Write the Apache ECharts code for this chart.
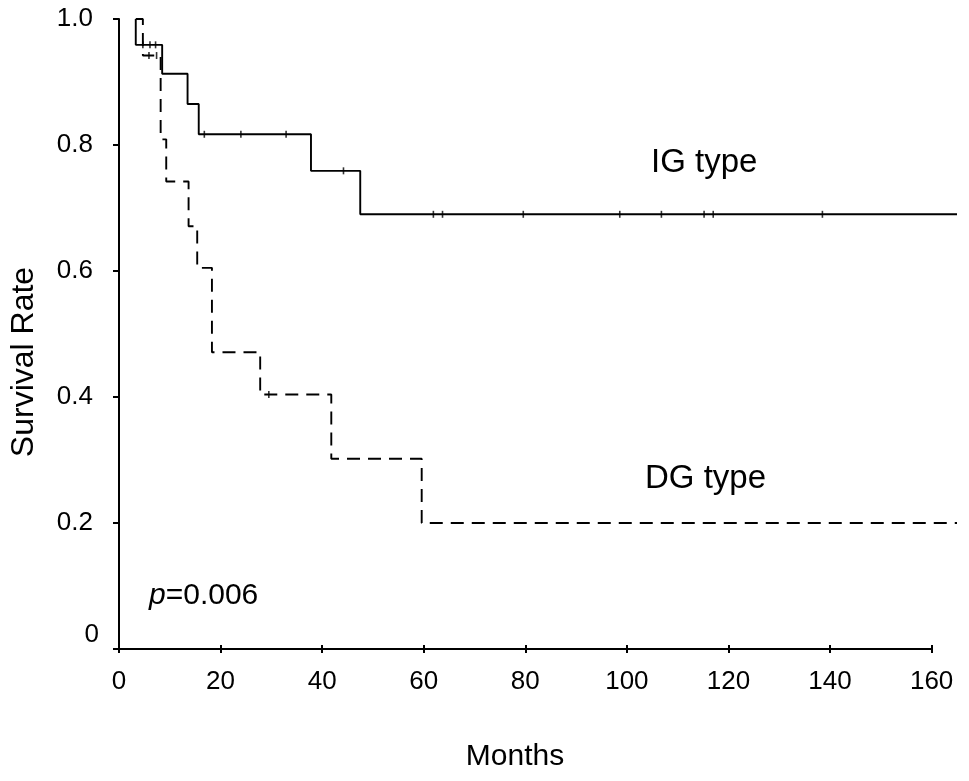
<!DOCTYPE html>
<html>
<head>
<meta charset="utf-8">
<script src="https://cdn.jsdelivr.net/npm/echarts@6/dist/echarts.min.js"></script>
<style>html,body{margin:0;padding:0;background:#fff;}#c{width:969px;height:781px;}</style>
</head>
<body>
<div id="c"></div>
<script>
// IG type (solid): event times and survival after each
const igTimes = [3.3, 3.3, 8.5, 13.5, 15.7, 37.8, 47.5, 165];
const igSurv  = [1.0, 0.959, 0.913, 0.865, 0.817, 0.759, 0.690, 0.690];
const igCensor = [4.7, 6.1, 7.2, 16.8, 24.0, 32.9, 44.2, 61.9, 63.7, 79.6, 98.6, 106.8, 115.2, 117.0, 138.5];

// DG type (dashed)
const dgTimes = [3.3, 4.7, 8.2, 9.3, 13.7, 15.4, 18.3, 27.8, 41.8, 59.6, 165];
const dgSurv  = [1.0, 0.942, 0.809, 0.742, 0.671, 0.605, 0.471, 0.404, 0.302, 0.200, 0.200];
const dgCensor = [5.9, 7.4, 29.5];

const xTicks = [0, 20, 40, 60, 80, 100, 120, 140, 160];
const yTicks = [0, 0.2, 0.4, 0.6, 0.8, 1.0];
const xEnd = 165;

function pairs(t, s) { return t.map((v, i) => [v, s[i]]); }
function survAt(t, s, x) {
  let v = s[0];
  for (let i = 0; i < t.length; i++) { if (t[i] <= x) v = s[i]; }
  return v;
}
const FONT = "'Liberation Sans', Arial, sans-serif";
const chart = echarts.init(document.getElementById('c'));
const xBase = {
  type: 'value', min: 0, max: xEnd,
  splitLine: { show: false }
};
chart.setOption({
  animation: false,
  backgroundColor: '#fff',
  grid: { left: 119, right: 12, top: 19, bottom: 132 },
  xAxis: [
    Object.assign({}, xBase, {
      position: 'bottom',
      axisLine: { show: false },
      axisTick: { inside: false, length: 4, customValues: xTicks, lineStyle: { color: '#000', width: 2 } },
      axisLabel: { color: '#000', fontSize: 26, fontFamily: FONT, margin: 20, customValues: xTicks }
    }),
    Object.assign({}, xBase, {
      position: 'bottom',
      axisLine: { show: false },
      axisTick: { inside: true, length: 4, customValues: xTicks, lineStyle: { color: '#000', width: 2 } },
      axisLabel: { show: false }
    })
  ],
  yAxis: {
    type: 'value', min: yTicks[0], max: yTicks[yTicks.length - 1], interval: 0.2,
    splitLine: { show: false },
    axisLine: { show: true, lineStyle: { color: '#000', width: 2 } },
    axisTick: { show: true, inside: false, length: 6, lineStyle: { color: '#000', width: 2 } },
    axisLabel: {
      color: '#000', fontSize: 26, fontFamily: FONT, margin: 20,
      formatter: v => v === 0 ? '{z|0}' : '{a|' + v.toFixed(1) + '}',
      rich: {
        a: { fontSize: 26, fontFamily: FONT, color: '#000', padding: [0, 6, 0, 0] },
        z: { fontSize: 26, fontFamily: FONT, color: '#000', padding: [0, 0, 28, 0] }
      }
    }
  },
  series: [
    {
      type: 'line', step: 'end', symbol: 'none',
      data: pairs(igTimes, igSurv),
      lineStyle: { color: '#000', width: 1.9, type: 'solid' },
      markLine: {
        silent: true, symbol: 'none', label: { show: false },
        lineStyle: { color: '#000', width: 2, type: 'solid' },
        data: [[{ coord: [xTicks[0], 0] }, { coord: [xTicks[xTicks.length - 1], 0] }]]
      }
    },
    {
      type: 'line', step: 'end', symbol: 'none',
      data: pairs(dgTimes, dgSurv),
      lineStyle: { color: '#000', width: 1.9, type: [13, 8] }
    },
    {
      type: 'scatter', symbol: 'rect', symbolSize: [1.6, 7],
      itemStyle: { color: '#000' },
      data: igCensor.map(x => [x, survAt(igTimes, igSurv, x)])
    },
    {
      type: 'scatter', symbol: 'rect', symbolSize: [1.6, 7],
      itemStyle: { color: '#000' },
      data: dgCensor.map(x => [x, survAt(dgTimes, dgSurv, x)])
    }
  ],
  graphic: [
    { type: 'text', x: 515, y: 757, style: { text: 'Months', font: "30px 'Liberation Sans', Arial", fill: '#000', align: 'center', verticalAlign: 'middle' } },
    { type: 'text', x: 24, y: 362, rotation: Math.PI / 2, style: { text: 'Survival Rate', font: "32px 'Liberation Sans', Arial", fill: '#000', align: 'center', verticalAlign: 'middle' } },
    { type: 'text', x: 651, y: 163, style: { text: 'IG type', font: "33px 'Liberation Sans', Arial", fill: '#000', verticalAlign: 'middle' } },
    { type: 'text', x: 645, y: 479, style: { text: 'DG type', font: "33px 'Liberation Sans', Arial", fill: '#000', verticalAlign: 'middle' } },
    { type: 'text', x: 149, y: 596, style: {
        text: '{i|p}=0.006', font: "30px 'Liberation Sans', Arial", fill: '#000', verticalAlign: 'middle',
        rich: { i: { fontStyle: 'italic', fontSize: 30, fontFamily: FONT, fill: '#000' } }
    } }
  ]
});
</script>
</body>
</html>
